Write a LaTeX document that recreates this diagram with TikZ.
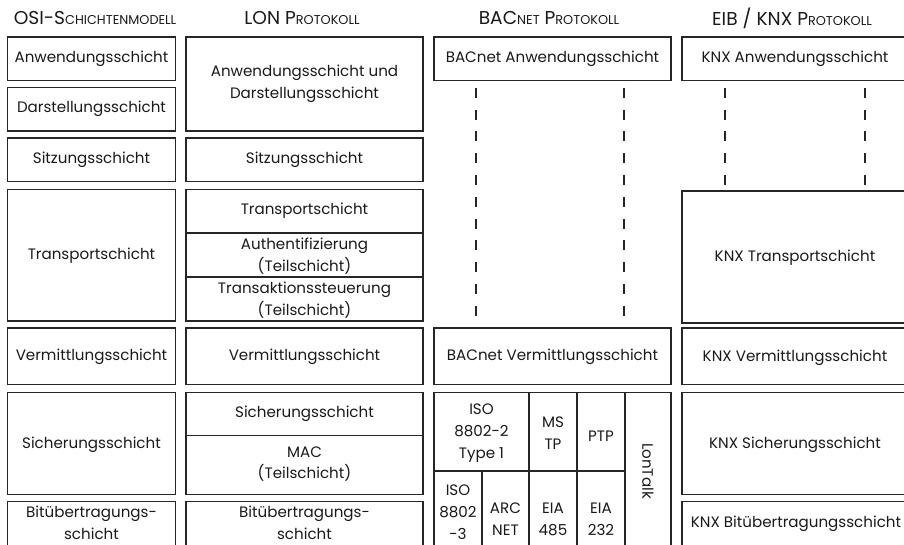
\documentclass[tikz,border=0pt]{standalone}
\usepackage{fontspec}
\setmainfont{Poppins}
\usetikzlibrary{positioning}

% kleine Versalien von Hand
\newcommand{\ksc}[1]{{\fontsize{7.3}{8}\selectfont #1}}

\begin{document}
\begin{tikzpicture}[x=0.2mm,y=-0.2mm,
  lay/.style={draw=black!85, line width=0.75pt},
  sub/.style={draw=black!85, line width=0.65pt},
  txt/.style={align=center, inner sep=0pt, text=black!90, font=\fontsize{8.6}{12.4}\selectfont},
  head/.style={inner sep=0pt, text=black!90, font=\fontsize{10.6}{12}\selectfont},
  gap/.style={draw=black!85, line width=0.7pt, dash pattern=on 2mm off 2.35mm}]
  \useasboundingbox (0,0) rectangle (904,545);

  % Kopfzeile
  \node[head] (hOSI) at (95,18)  {OSI-S\ksc{CHICHTENMODELL}};
  \node[head] (hLON) at (302,18) {LON P\ksc{ROTOKOLL}};
  \node[head] (hBAC) at (549,18) {BAC\ksc{NET} P\ksc{ROTOKOLL}};
  \node[head] (hKNX) at (792,18) {EIB / KNX P\ksc{ROTOKOLL}};

  % OSI-Schichtenmodell
  \draw[lay] (7.5,37) rectangle (175.5,80.5);
  \draw[lay] (7.5,87.5) rectangle (175.5,131);
  \draw[lay] (7.5,138) rectangle (175.5,181.5);
  \draw[lay] (7.5,189.5) rectangle (175.5,321);
  \draw[lay] (7.5,328) rectangle (175.5,384.5);
  \draw[lay] (7.5,392.5) rectangle (175.5,494.5);
  \draw[lay] (7.5,501.5) rectangle (175.5,550);
  \node[txt] (osiAnw)  at (91.5,58.5) {Anwendungsschicht};
  \node[txt] (osiDar)  at (91.5,109)  {Darstellungsschicht};
  \node[txt] (osiSitz) at (91.5,160)  {Sitzungsschicht};
  \node[txt] (osiTra)  at (91.5,256)  {Transportschicht};
  \node[txt] (osiVer)  at (91.5,357)  {Vermittlungsschicht};
  \node[txt] (osiSich) at (91.5,445)  {Sicherungsschicht};
  \node[txt] (osiBit)  at (91.5,523)  {Bitübertragungs-\\schicht};

  % LON
  \draw[lay] (186,37) rectangle (423,131);
  \draw[lay] (186,138) rectangle (423,181.5);
  \draw[lay] (186,189.5) rectangle (423,321);
  \draw[sub] (186,233) -- (423,233);
  \draw[sub] (186,277) -- (423,277);
  \draw[lay] (186,328) rectangle (423,384.5);
  \draw[lay] (186,392.5) rectangle (423,494.5);
  \draw[sub] (186,435.5) -- (423,435.5);
  \draw[lay] (186,501.5) rectangle (423,550);
  \node[txt] (lonAnw)  at (304.5,84)  {Anwendungsschicht und\\Darstellungsschicht};
  \node[txt] (lonSitz) at (304.5,160) {Sitzungsschicht};
  \node[txt] (lonTra)  at (304.5,211) {Transportschicht};
  \node[txt] (lonAuth) at (304.5,256) {Authentifizierung\\(Teilschicht)};
  \node[txt] (lonTrak) at (304.5,300) {Transaktionssteuerung\\(Teilschicht)};
  \node[txt] (lonVer)  at (304.5,357) {Vermittlungsschicht};
  \node[txt] (lonSich) at (304.5,414) {Sicherungsschicht};
  \node[txt] (lonMac)  at (304.5,464) {MAC\\(Teilschicht)};
  \node[txt] (lonBit)  at (304.5,523) {Bitübertragungs-\\schicht};

  % BACnet
  \draw[lay] (434,37) rectangle (671,80.5);
  \draw[gap] (476,88) -- (476,322);
  \draw[gap] (624,88) -- (624,322);
  \draw[lay] (434,328) rectangle (671,384.5);
  \draw[lay] (434,392.5) rectangle (671,550);
  \draw[sub] (529,392.5) -- (529,550);
  \draw[sub] (577,392.5) -- (577,550);
  \draw[sub] (625,392.5) -- (625,550);
  \draw[sub] (434,471) -- (625,471);
  \draw[sub] (482,471) -- (482,550);
  \node[txt] (bacAnw)  at (552.5,59)  {BACnet Anwendungsschicht};
  \node[txt] (bacVer)  at (552.5,357) {BACnet Vermittlungsschicht};
  \node[txt] (bacIso2) at (481.5,433) {ISO\\8802-2\\Type 1};
  \node[txt] (bacMstp) at (553,433)   {MS\\TP};
  \node[txt] (bacPtp)  at (601,436)   {PTP};
  \node[txt] (bacIso3) at (458,512)   {ISO\\8802\\-3};
  \node[txt] (bacArc)  at (505.5,519) {ARC\\NET};
  \node[txt] (bacEia4) at (553,519)   {EIA\\485};
  \node[txt] (bacEia2) at (601,519)   {EIA\\232};
  \node[txt, rotate=-90] (bacLon) at (648,471) {LonTalk};

  % EIB / KNX
  \draw[lay] (682,37) rectangle (910,80.5);
  \draw[gap] (725,88) -- (725,187);
  \draw[gap] (865,88) -- (865,187);
  \draw[lay] (682,191) rectangle (910,323);
  \draw[lay] (682,328) rectangle (910,384.5);
  \draw[lay] (682,392.5) rectangle (910,494.5);
  \draw[lay] (682,501.5) rectangle (910,550);
  \node[txt] (knxAnw)  at (795,59)  {KNX Anwendungsschicht};
  \node[txt] (knxTra)  at (795,258) {KNX Transportschicht};
  \node[txt] (knxVer)  at (795,358) {KNX Vermittlungsschicht};
  \node[txt] (knxSich) at (795,445) {KNX Sicherungsschicht};
  \node[txt] (knxBit)  at (796,524) {KNX Bitübertragungsschicht};
\end{tikzpicture}
\end{document}
